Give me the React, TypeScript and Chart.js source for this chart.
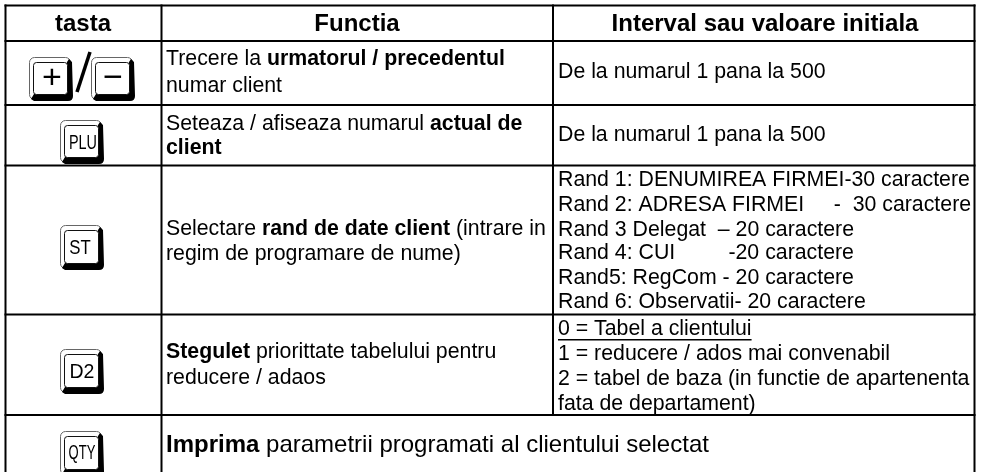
import React, { useEffect, useRef } from "react";
import { Chart, registerables } from "chart.js";

Chart.register(...registerables);

const WIDTH = 984;
const HEIGHT = 472;
const FONT = '"Liberation Sans", Arial, sans-serif';
const BODY = 21.3;

const columnEdges = [5.5, 161.5, 553, 974.5];
const rowEdges = [5.5, 41, 105, 165.5, 314.5, 415];

const headers = ["tasta", "Functia", "Interval sau valoare initiala"];
const headerCenters = [83, 357, 765];

type Run = { t: string; b?: boolean; u?: boolean };
type Line = { x: number; y: number; runs: Run[]; size?: number };

const functionLines: Line[] = [
  { x: 166, y: 59, runs: [{ t: "Trecere la " }, { t: "urmatorul / precedentul", b: true }] },
  { x: 166, y: 86, runs: [{ t: "numar client" }] },
  { x: 166, y: 124, runs: [{ t: "Seteaza / afiseaza numarul " }, { t: "actual de", b: true }] },
  { x: 166, y: 148, runs: [{ t: "client", b: true }] },
  { x: 166, y: 229, runs: [{ t: "Selectare " }, { t: "rand de date client", b: true }, { t: " (intrare in" }] },
  { x: 166, y: 254, runs: [{ t: "regim de programare de nume)" }] },
  { x: 166, y: 352, runs: [{ t: "Stegulet", b: true }, { t: " priorittate tabelului pentru" }] },
  { x: 166, y: 378, runs: [{ t: "reducere / adaos" }] },
  { x: 166, y: 445, size: 24, runs: [{ t: "Imprima", b: true }, { t: " parametrii programati al clientului selectat" }] },
];

const intervalLines: Line[] = [
  { x: 558, y: 72, runs: [{ t: "De la numarul 1 pana la 500" }] },
  { x: 558, y: 135, runs: [{ t: "De la numarul 1 pana la 500" }] },
  { x: 558, y: 180, runs: [{ t: "Rand 1: DENUMIREA FIRMEI-30 caractere" }] },
  { x: 558, y: 205, runs: [{ t: "Rand 2: ADRESA FIRMEI     -  30 caractere" }] },
  { x: 558, y: 230, runs: [{ t: "Rand 3 Delegat  – 20 caractere" }] },
  { x: 558, y: 253, runs: [{ t: "Rand 4: CUI         -20 caractere" }] },
  { x: 558, y: 278, runs: [{ t: "Rand5: RegCom - 20 caractere" }] },
  { x: 558, y: 302, runs: [{ t: "Rand 6: Observatii- 20 caractere" }] },
  { x: 558, y: 329, runs: [{ t: "0 = Tabel a clientului", u: true }] },
  { x: 558, y: 354, runs: [{ t: "1 = reducere / ados mai convenabil" }] },
  { x: 558, y: 379, runs: [{ t: "2 = tabel de baza (in functie de apartenenta" }] },
  { x: 558, y: 404, runs: [{ t: "fata de departament)" }] },
];

const keys = [
  { label: "+", x: 29, y: 57, w: 44, h: 44, size: 34, squeeze: 1, cx: 52, cy: 78 },
  { label: "−", x: 91, y: 57, w: 44, h: 44, size: 34, squeeze: 1, cx: 113, cy: 78 },
  { label: "PLU", x: 60, y: 120, w: 44, h: 44, size: 20, squeeze: 0.72, cx: 83, cy: 142 },
  { label: "ST", x: 60, y: 225, w: 44, h: 45, size: 21, squeeze: 0.8, cx: 80, cy: 247 },
  { label: "D2", x: 60, y: 349, w: 44, h: 45, size: 21, squeeze: 0.93, cx: 82, cy: 371 },
  { label: "QTY", x: 60, y: 431, w: 44, h: 45, size: 21, squeeze: 0.62, cx: 82, cy: 452 },
];

function drawKey(ctx: CanvasRenderingContext2D, x: number, y: number, w: number, h: number) {
  // outer cap with thin grey outline
  ctx.fillStyle = "#fff";
  ctx.strokeStyle = "#666";
  ctx.lineWidth = 1;
  ctx.beginPath();
  ctx.roundRect(x + 0.5, y + 0.5, w - 3, h - 2, 5);
  ctx.fill();
  ctx.stroke();
  // thick black right and bottom edge
  ctx.fillStyle = "#000";
  ctx.beginPath();
  ctx.moveTo(x + w - 4, y + 2);
  ctx.lineTo(x + w - 1, y + 5);
  ctx.lineTo(x + w, y + h - 5);
  ctx.quadraticCurveTo(x + w, y + h, x + w - 5, y + h);
  ctx.lineTo(x + 5, y + h);
  ctx.lineTo(x + 2, y + h - 2);
  ctx.lineTo(x + 5, y + h - 7);
  ctx.lineTo(x + w - 6, y + h - 7);
  ctx.lineTo(x + w - 6, y + 5);
  ctx.closePath();
  ctx.fill();
  // inner face
  ctx.fillStyle = "#fff";
  ctx.strokeStyle = "#111";
  ctx.lineWidth = 1;
  ctx.beginPath();
  ctx.roundRect(x + 4.5, y + 5.5, w - 10, h - 12, 3);
  ctx.fill();
  ctx.stroke();
}

const tablePlugin = {
  id: "tablePlugin",
  afterDatasetsDraw(chart: any) {
    const { ctx, scales } = chart;
    const px = (v: number) => scales.x.getPixelForValue(v);
    const py = (v: number) => scales.y.getPixelForValue(v);
    ctx.save();
    ctx.fillStyle = "#000";
    ctx.textBaseline = "middle";

    ctx.font = `bold 24px ${FONT}`;
    ctx.textAlign = "center";
    headers.forEach((h, i) => ctx.fillText(h, px(headerCenters[i]), py(24)));

    ctx.textAlign = "left";
    [...functionLines, ...intervalLines].forEach((line) => {
      let x = px(line.x);
      const size = line.size ?? BODY;
      line.runs.forEach((r) => {
        ctx.font = `${r.b ? "bold " : ""}${size}px ${FONT}`;
        ctx.fillText(r.t, x, py(line.y));
        const w = ctx.measureText(r.t).width;
        if (r.u) ctx.fillRect(x, py(line.y) + 10, w, 1.5);
        x += w;
      });
    });

    // slash between the + and − keys
    ctx.strokeStyle = "#000";
    ctx.lineWidth = 3.5;
    ctx.beginPath();
    ctx.moveTo(px(77), py(92));
    ctx.lineTo(px(90), py(52));
    ctx.stroke();

    keys.forEach((k) => {
      drawKey(ctx, px(k.x), py(k.y), k.w, k.h);
      ctx.fillStyle = "#000";
      ctx.textAlign = "center";
      ctx.font = `${k.size}px ${FONT}`;
      ctx.save();
      ctx.translate(px(k.cx), py(k.cy));
      ctx.scale(k.squeeze, 1);
      ctx.fillText(k.label, 0, 1);
      ctx.restore();
    });
    ctx.restore();
  },
};

export default function App() {
  const ref = useRef<HTMLCanvasElement>(null);
  useEffect(() => {
    document.body.style.margin = "0";
    document.body.style.background = "#fff";
    const lastRow = rowEdges[rowEdges.length - 1];
    const rules = [
      ...columnEdges.map((c, i) => ({
        data: [
          { x: c, y: rowEdges[0] - 1 },
          { x: c, y: i === 2 ? lastRow : HEIGHT },
        ],
      })),
      ...rowEdges.map((r) => ({
        data: [
          { x: columnEdges[0] - 1, y: r },
          { x: columnEdges[3] + 1, y: r },
        ],
      })),
    ].map((d) => ({
      ...d,
      showLine: true,
      borderColor: "#000",
      borderWidth: 2,
      pointRadius: 0,
    }));
    const chart = new Chart(ref.current!, {
      type: "scatter",
      data: { datasets: rules },
      options: {
        animation: false,
        responsive: false,
        maintainAspectRatio: false,
        layout: { padding: 0 },
        plugins: { legend: { display: false }, tooltip: { enabled: false } },
        scales: {
          x: { type: "linear", min: 0, max: WIDTH, display: false },
          y: { type: "linear", min: 0, max: HEIGHT, reverse: true, display: false },
        },
      },
      plugins: [tablePlugin],
    });
    return () => chart.destroy();
  }, []);
  return <canvas ref={ref} width={WIDTH} height={HEIGHT} style={{ display: "block" }} />;
}
